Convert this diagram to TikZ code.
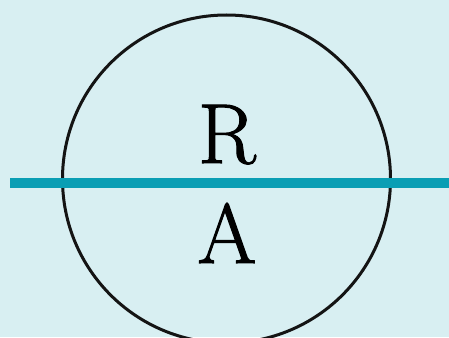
\documentclass[tikz,border=0pt]{standalone}
\usepackage{fontspec}
\newfontfamily\letterfont[FakeBold=1.3]{Latin Modern Roman}
\definecolor{bg}{HTML}{D8EFF2}
\definecolor{teal}{HTML}{0A9EB4}
\tikzset{
  letter/.style={font=\letterfont\fontsize{85}{85}\selectfont, inner sep=0pt, anchor=base},
  ring/.style={draw=black!92, line width=3pt},
  bar/.style={draw=teal, line width=10pt}
}
\begin{document}
\begin{tikzpicture}[x=1pt,y=-1pt]
\fill[bg] (0,0) rectangle (449,337);
\useasboundingbox (0,0) rectangle (449,337);
\begin{scope}
\clip (0,0) rectangle (449,337);
\node[ring, circle, minimum size=328pt, inner sep=0pt] (c) at (226.5,179) {};
\end{scope}
\coordinate (l) at (10,183);
\coordinate (r) at (449,183);
\draw[bar] (l) -- (r);
\node[letter] (R) at (227,163) {R};
\node[letter] (A) at (227,263) {A};
\end{tikzpicture}
\end{document}
